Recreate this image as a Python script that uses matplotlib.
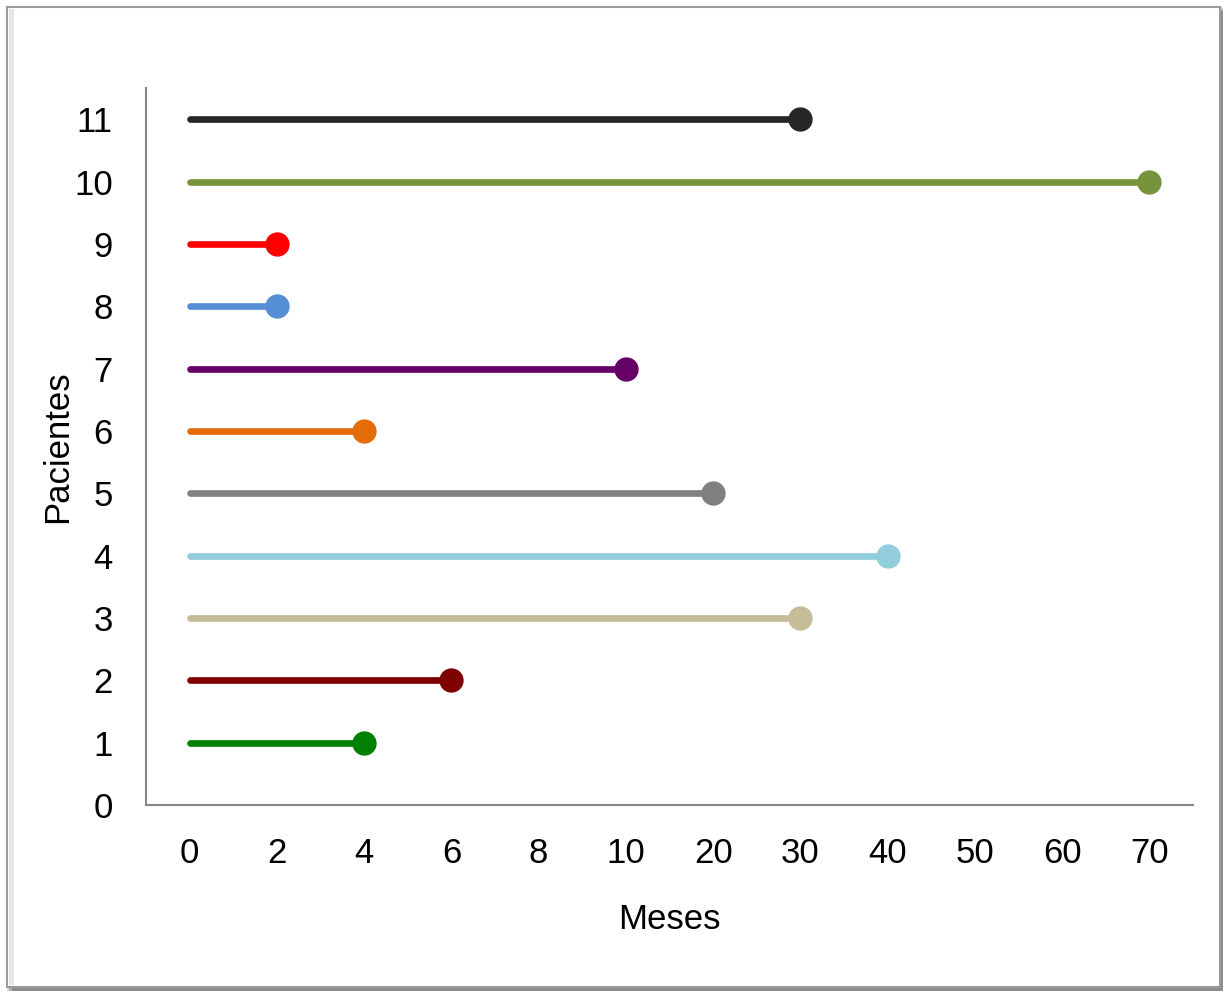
import matplotlib
matplotlib.use("Agg")
import matplotlib.pyplot as plt
from matplotlib.patches import Rectangle
from matplotlib import font_manager

# category axis of months (evenly spaced, as in the original)
month_ticks = [0, 2, 4, 6, 8, 10, 20, 30, 40, 50, 60, 70]
patients = [1, 2, 3, 4, 5, 6, 7, 8, 9, 10, 11]
end_month = [4, 6, 30, 40, 20, 4, 10, 2, 2, 70, 30]
colors = ['#008000', '#7F0000', '#C4BD97', '#92CDDC', '#808080', '#E46C0A',
          '#660066', '#558ED5', '#FF0000', '#77933C', '#262626']
y_ticks = [0, 1, 2, 3, 4, 5, 6, 7, 8, 9, 10, 11]

names = {f.name for f in font_manager.fontManager.ttflist}
family = 'Liberation Sans Narrow' if 'Liberation Sans Narrow' in names else 'Liberation Sans'
plt.rcParams['font.family'] = [family, 'DejaVu Sans']

fig = plt.figure(figsize=(12.29, 9.93), dpi=100)

# outer frame with a soft shadow on the right/bottom
for i, c in enumerate(['#d9d9d9', '#b0b0b0', '#8c8c8c']):
    fig.patches.append(Rectangle((8 / 1229 + i * 0.002, 0.004), 0.987 - i * 0.002, 0.988 - i * 0.002,
                                 transform=fig.transFigure, facecolor='none',
                                 edgecolor=c, linewidth=2, zorder=-2))
fig.patches.append(Rectangle((7 / 1229, 6 / 993), 1213 / 1229, 980 / 993,
                             transform=fig.transFigure, facecolor='white',
                             edgecolor='#9a9a9a', linewidth=1.5, zorder=-1))
# light inner shading along the left edge
fig.patches.append(Rectangle((9 / 1229, 8 / 993), 5 / 1229, 976 / 993,
                             transform=fig.transFigure, facecolor='#e6e6e6',
                             edgecolor='none', zorder=-1))

ax = fig.add_axes([146 / 1229, 188 / 993, 1047 / 1229, 717 / 993])
ax.set_facecolor('none')

for p, m, c in zip(patients, end_month, colors):
    xi = month_ticks.index(m)
    ax.plot([0, xi], [p, p], color=c, linewidth=4.8, solid_capstyle='round', zorder=2)
    ax.plot([xi], [p], 'o', color=c, markersize=16.5, zorder=3)

ax.set_xlim(-0.5, len(month_ticks) - 0.5)
ax.set_ylim(0, 11.5)
ax.set_xticks(range(len(month_ticks)))
ax.set_xticklabels([str(t) for t in month_ticks])
ax.set_yticks(y_ticks)
ax.tick_params(axis='both', length=0, labelsize=25)
ax.tick_params(axis='y', pad=24)
ax.tick_params(axis='x', pad=23)

for s in ['top', 'right']:
    ax.spines[s].set_visible(False)
for s in ['left', 'bottom']:
    ax.spines[s].set_color('#868686')
    ax.spines[s].set_linewidth(1.5)

ax.set_xlabel('Meses', fontsize=25, labelpad=24)
ax.set_ylabel('Pacientes', fontsize=25, labelpad=0)

fig.savefig('out.png', dpi=100)
